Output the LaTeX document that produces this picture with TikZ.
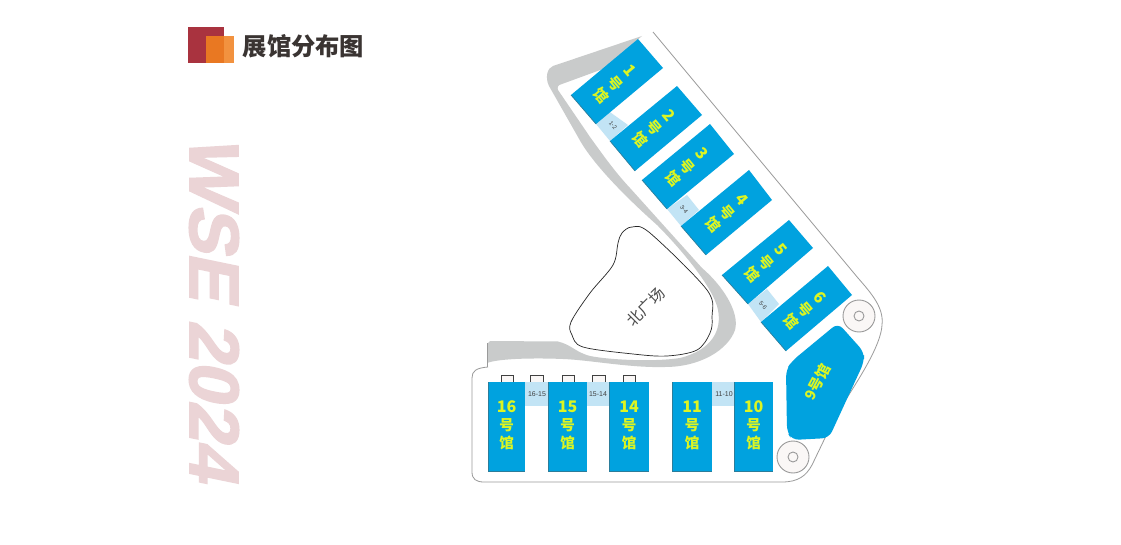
\documentclass[tikz,border=0pt]{standalone}
\usepackage{fontspec}
\setmainfont{Liberation Sans}
\newfontfamily\cjkfont{Noto Sans CJK SC}
\newfontfamily\wsefont[FakeBold=2.2,FakeSlant=0.2]{Liberation Sans Bold}
\definecolor{hallblue}{HTML}{00A2DF}
\definecolor{halledge}{HTML}{2B7D9B}
\definecolor{halltext}{HTML}{DCF522}
\definecolor{linkblue}{HTML}{C2E4F5}
\definecolor{bandgray}{HTML}{C9CBCB}
\definecolor{outlinegray}{HTML}{9A9A9A}
\definecolor{wsepink}{HTML}{EBD4D6}
\definecolor{logored}{HTML}{A9333F}
\definecolor{logoorange}{HTML}{E97822}
\definecolor{logolight}{HTML}{F2923F}
\definecolor{titledark}{HTML}{3A3432}
\definecolor{wheelfill}{HTML}{FAF7F6}
\tikzset{
  hall/.style={fill=hallblue},
  halllabel/.style={inner sep=0pt,text=halltext,font=\cjkfont\bfseries\fontsize{14.5}{15}\selectfont},
  hallnum/.style={inner sep=0pt,text=halltext,font=\cjkfont\bfseries\fontsize{16}{16}\selectfont},
  linkzone/.style={fill=linkblue},
  linktext/.style={inner sep=0pt,text=black!75,font=\fontsize{7}{7}\selectfont},
  annexbox/.style={draw=black!75,line width=0.6pt,fill=wheelfill},
  wheel/.style={draw=black!40,line width=0.9pt,fill=wheelfill},
}
\newcommand{\slanthall}[8]{%
  \fill[hall] (#1,#2) -- (#3,#4) -- (#5,#6) -- (#7,#8) -- cycle;
  \draw[halledge,line width=0.7pt] (#7,#8) -- (#5,#6);
}
\newcommand{\slanttext}[4]{%
  \node[hallnum,rotate=-50] (n#1) at (#2,#3) {#4};
  \node[halllabel,rotate=-50] (h#1) at ({#2-14.7},{#3+12.6}) {号};
  \node[halllabel,rotate=-50] (g#1) at ({#2-28.7},{#3+24.8}) {馆};
}
\newcommand{\rowhall}[4]{%
  \fill[halledge] (#2,382) rectangle (#3,472);
  \fill[hall] ({#2+0.7},382) rectangle (#3,470.6);
  \node[hallnum] (n#1) at ({(#2+#3)/2},407) {#4};
  \node[halllabel] (h#1) at ({(#2+#3)/2},425) {号};
  \node[halllabel] (g#1) at ({(#2+#3)/2},443) {馆};
}
\begin{document}
\begin{tikzpicture}[x=1pt,y=-1pt]
\useasboundingbox (0,0) rectangle (1121,545);
\fill[white] (0,0) rectangle (1121,545);
% logo
\fill[logored] (188,27) rectangle (224,63);
\fill[logolight] (206,36) rectangle (234,63);
\fill[logoorange] (206,36) rectangle (224,63);
\node[inner sep=0pt,text=titledark,font=\cjkfont\bfseries\fontsize{24.3}{24}\selectfont] (title) at (303.5,46) {展馆分布图};
% side title
\node[inner sep=0pt,rotate=-90,text=wsepink,font=\wsefont\fontsize{70}{70}\selectfont] (wse) at (214,308) {\scalebox{1.03}[1]{WSE 2024}};
% outline
\draw[outlinegray,line width=0.8pt] (653,32) -- (793,200) -- (858,278)
  .. controls (872,294) and (884,308) .. (882,325)
  .. controls (881,345) and (860,378) .. (837,413)
  -- (812,465)
  .. controls (806,476) and (798,482) .. (782,482)
  -- (484,482) .. controls (476,482) and (472,479) .. (472,472)
  -- (472,378) .. controls (472,371) and (476,368) .. (488,367);
% gray band
\fill[bandgray] (642,36) -- (553,66)
  .. controls (547,68) and (545,78) .. (549,86)
  -- (578,137)
  .. controls (590,160) and (620,192) .. (657,225)
  .. controls (680,248) and (714,288) .. (718,310)
  .. controls (722,330) and (712,350) .. (680,358)
  .. controls (655,362) and (610,360) .. (590,356)
  .. controls (575,352) and (572,345) .. (558,341.5)
  -- (490,341) -- (487,344) -- (487,363)
  .. controls (500,358) and (540,358) .. (563,359)
  .. controls (590,360) and (630,368) .. (665,367)
  .. controls (700,367) and (728,350) .. (735,330)
  .. controls (740,312) and (722,285) .. (702,268)
  -- (630,188)
  .. controls (615,172) and (603,155) .. (590,137)
  -- (558,90)
  .. controls (557,87) and (558,85) .. (562,84)
  -- (603,69) -- cycle;
\draw[outlinegray,line width=0.8pt] (487,343) -- (487,367);
% plaza
\draw[black!85,line width=0.7pt,fill=white] plot[smooth cycle,tension=0.55] coordinates {(632,227) (622,233) (618,243) (613,265) (590,293) (571,322) (572,335) (583,347) (633,354) (667,356) (697,350) (710,333) (712,317) (707,290) (650,233)};
\node[inner sep=0pt,rotate=45,text=black!70,font=\cjkfont\fontsize{15.5}{15}\selectfont] (plaza) at (646,307) {北广场};
% slanted links
\fill[linkzone] (607,110) -- (628,125) -- (610,141) -- (596,124) -- cycle;
\fill[linkzone] (687,195) -- (699,210) -- (681,226) -- (667,209) -- cycle;
\fill[linkzone] (767,289) -- (779,304) -- (761,322) -- (748,304) -- cycle;
\node[linktext,rotate=-50,font=\fontsize{6}{6}\selectfont] (l12) at (613,125) {1-2};
\node[linktext,rotate=-50,font=\fontsize{6}{6}\selectfont] (l34) at (684,209) {3-4};
\node[linktext,rotate=-50,font=\fontsize{6}{6}\selectfont] (l56) at (763,305) {5-6};
% slanted halls
\slanthall{638}{39}{663}{68}{596}{124}{571}{95}
\slanthall{677}{86}{702}{115}{635}{171}{610}{141}
\slanthall{710}{124}{734}{154}{667}{209}{642}{180}
\slanthall{749}{170}{772}{200}{706}{255}{681}{226}
\slanthall{789}{220}{813}{248}{748}{304}{722}{275}
\slanthall{828}{266}{852}{295}{786}{351}{761}{322}
\slanttext{1}{630}{71}{1}
\slanttext{2}{669}{115}{2}
\slanttext{3}{702}{154}{3}
\slanttext{4}{742}{200}{4}
\slanttext{5}{781}{250}{5}
\slanttext{6}{820}{297}{6}
% wheels
\draw[wheel] (859,316) circle (16);
\draw[wheel] (859,316) circle (5);
\draw[wheel] (793,457) circle (16);
\draw[wheel] (793,457) circle (5);
% hall 9
\fill[hall,rounded corners=7pt] (838,323) -- (864,352) -- (864,362) -- (829,438) -- (792,440) -- (787,432) -- (786,370) -- (792,361) -- cycle;
\node[inner sep=0pt,rotate=62,text=halltext,font=\cjkfont\bfseries\fontsize{14.5}{15}\selectfont] (n9) at (817.5,382) {9号馆};
% annex boxes
\draw[annexbox] (501,382) -- (501,375) -- (513,375) -- (513,382);
\draw[annexbox] (530,382) -- (530,375) -- (543,375) -- (543,382);
\draw[annexbox] (562,382) -- (562,375) -- (574,375) -- (574,382);
\draw[annexbox] (592,382) -- (592,375) -- (605,375) -- (605,382);
\draw[annexbox] (623,382) -- (623,375) -- (635,375) -- (635,382);
% row links
\fill[linkzone] (525,382) rectangle (548,406);
\fill[linkzone] (587,382) rectangle (609,406);
\fill[linkzone] (712,382) rectangle (734,406);
\node[linktext] (l1615) at (537,394) {16-15};
\node[linktext] (l1514) at (598,394) {15-14};
\node[linktext] (l1110) at (724,394) {11-10};
% row halls
\rowhall{16}{488}{525}{16}
\rowhall{15}{548}{587}{15}
\rowhall{14}{609}{649}{14}
\rowhall{11}{672}{712}{11}
\rowhall{10}{734}{773}{10}
\end{tikzpicture}
\end{document}
